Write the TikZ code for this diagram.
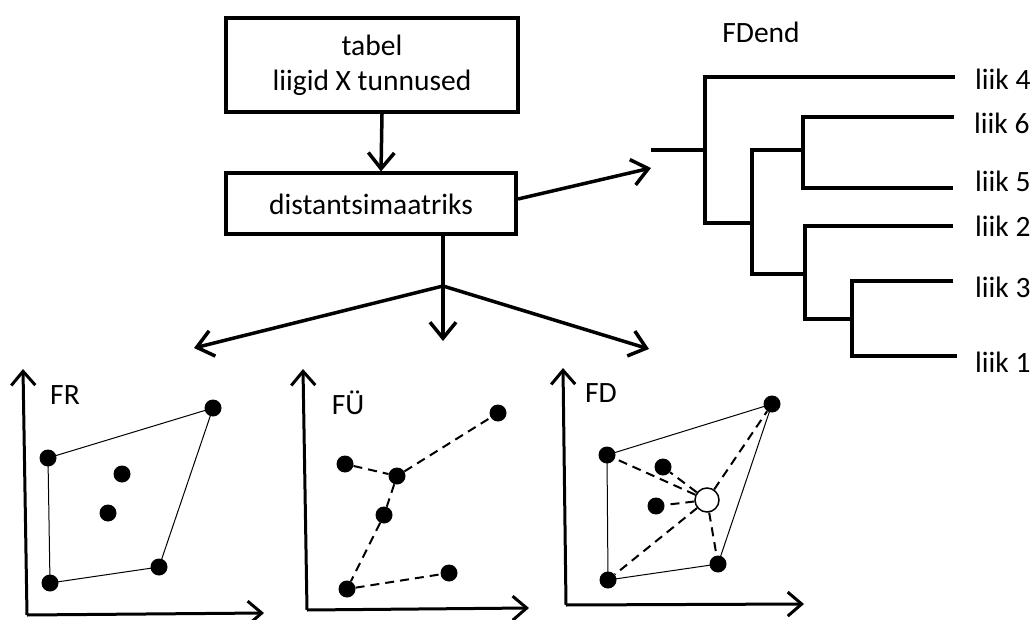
\documentclass[tikz,border=0pt]{standalone}
\usepackage{fontspec}
\setmainfont{Carlito}
\usetikzlibrary{arrows.meta}
\begin{document}
\begin{tikzpicture}[x=1pt,y=-1pt,
  font=\fontsize{29.5}{35}\selectfont,
  box/.style={draw,line width=4pt,inner sep=0pt,align=center},
  arr/.style={line width=3.5pt,-{Straight Barb[length=16pt,width=26pt]}},
  axis/.style={line width=3pt,-{Straight Barb[length=14pt,width=24pt]}},
  tree/.style={line width=4pt,line cap=rect},
  hull/.style={line width=1pt},
  dsh/.style={line width=2pt,dash pattern=on 9pt off 6pt},
  dot/.style={circle,fill=black,inner sep=0pt,minimum size=17pt},
  odot/.style={circle,draw=black,fill=white,line width=1.5pt,inner sep=0pt,minimum size=24pt},
  lbl/.style={inner sep=0pt,anchor=base west}]
\useasboundingbox (0,0) rectangle (1030,620);
% boxes
\node[box,minimum width=292pt,minimum height=94pt] (tab) at (372,65) {tabel\\liigid X tunnused};
\node[box,minimum width=290pt,minimum height=61pt] (dist) at (371,204) {distantsimaatriks};
\draw[arr] ([xshift=10pt]tab.south) -- ([xshift=10pt]dist.north);
% branches
\coordinate (j) at (443,286);
\coordinate (eL) at (194,348);
\coordinate (eM) at (443,341);
\coordinate (eR) at (649,349);
\draw[line width=3.5pt] ([xshift=72pt]dist.south) -- (j);
\draw[arr] (j) -- (eL);
\draw[arr] (j) -- (eM);
\draw[arr] (j) -- (eR);
% to dendrogram
\coordinate (eD) at (651,168);
\draw[arr] (dist.east |- 0,199) -- (eD);
% dendrogram
\node[inner sep=0pt] (fdend) at (761,32) {FDend};
\coordinate (root) at (653,150);
\draw[tree] (root) -- (705,150);
\draw[tree] (953,77) -- (705,77) -- (705,223) -- (752,223);
\draw[tree] (752,150) -- (752,274);
\draw[tree] (952,117) -- (803,117) -- (803,188) -- (951,188);
\draw[tree] (752,150) -- (803,150);
\draw[tree] (951,226) -- (805,226) -- (805,319) -- (852,319);
\draw[tree] (752,274) -- (805,274);
\draw[tree] (951,281) -- (852,281) -- (852,356) -- (955,356);
\node[lbl] (l4) at (975,90) {liik 4};
\node[lbl] (l6) at (974,134) {liik 6};
\node[lbl] (l5) at (975,192) {liik 5};
\node[lbl] (l2) at (975,237) {liik 2};
\node[lbl] (l3) at (975,297) {liik 3};
\node[lbl] (l1) at (975,372) {liik 1};
% ---- FR panel
\coordinate (o1) at (27,615);
\coordinate (y1) at (23,369);
\coordinate (x1) at (264,613);
\draw[axis] (o1) -- (y1);
\draw[axis] (o1) -- (x1);
\node[inner sep=0pt] (fr) at (65,395) {FR};
\node[dot] (a1) at (213,408) {};
\node[dot] (a2) at (48,458) {};
\node[dot] (a3) at (122,474) {};
\node[dot] (a4) at (108,513) {};
\node[dot] (a5) at (159,567) {};
\node[dot] (a6) at (50,583) {};
\draw[hull] (a2.center) -- (a1.center) -- (a5.center) -- (a6.center) -- cycle;
% ---- FU panel
\coordinate (o2) at (307,610);
\coordinate (y2) at (303,369);
\coordinate (x2) at (529,608);
\draw[axis] (o2) -- (y2);
\draw[axis] (o2) -- (x2);
\node[inner sep=0pt] (fu) at (348,403) {FÜ};
\node[dot] (b1) at (498,413) {};
\node[dot] (b2) at (345,464) {};
\node[dot] (b3) at (397,476) {};
\node[dot] (b4) at (384,515) {};
\node[dot] (b5) at (347,589) {};
\node[dot] (b6) at (449,573) {};
\draw[dsh] (b2) -- (b3) -- (b1);
\draw[dsh] (b3) -- (b4) -- (b5) -- (b6);
% ---- FD panel
\coordinate (o3) at (566,605);
\coordinate (y3) at (563,368);
\coordinate (x3) at (804,604);
\draw[axis] (o3) -- (y3);
\draw[axis] (o3) -- (x3);
\node[inner sep=0pt] (fd) at (601,393) {FD};
\node[dot] (c1) at (772,404) {};
\node[dot] (c2) at (607,455) {};
\node[dot] (c3) at (663,467) {};
\node[dot] (c4) at (656,506) {};
\node[dot] (c5) at (718,564) {};
\node[dot] (c6) at (608,580) {};
\draw[hull] (c2.center) -- (c1.center) -- (c5.center) -- (c6.center) -- cycle;
\node[odot] (cc) at (707,500) {};
\foreach \p in {c1,c2,c3,c4,c5,c6} \draw[dsh] (cc) -- (\p);
\end{tikzpicture}
\end{document}
